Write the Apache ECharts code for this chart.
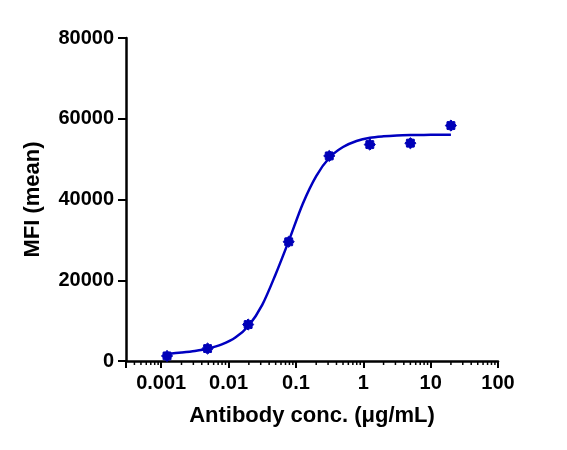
<!DOCTYPE html>
<html>
<head>
<meta charset="utf-8">
<script src="https://cdn.jsdelivr.net/npm/echarts@6/dist/echarts.min.js"></script>
<style>
html,body{margin:0;padding:0;background:#fff;}
#c{width:567px;height:450px;}
</style>
</head>
<body>
<div id="c"></div>
<script>
// Measured points (concentration in µg/mL, MFI mean)
const concentrations = [0.00122, 0.00488, 0.01953, 0.078125, 0.3125, 1.25, 5, 20];
const mfiValues = [1250, 3080, 9030, 29530, 50790, 53600, 53950, 58310];

// Fitted curve
const curveX = [0.00122, 0.002, 0.00316, 0.005, 0.00794, 0.0126, 0.02, 0.0316, 0.05, 0.0794, 0.126, 0.2, 0.316, 0.5, 0.794, 1.26, 2, 3.16, 5, 7.94, 12.6, 20];
const curveY = [1750, 2100, 2500, 3100, 4100, 5800, 8800, 13900, 21500, 30000, 38900, 45800, 50400, 53000, 54500, 55300, 55650, 55850, 55950, 56000, 56040, 56060];

// Axis tick labels
const xTickLabels = { '-3': '0.001', '-2': '0.01', '-1': '0.1', '0': '1', '1': '10', '2': '100' };
const yTicks = [0, 20000, 40000, 60000, 80000];

// minor tick values on the log axis
const minorMultipliers = [2, 3, 4, 5, 6, 7, 8, 9];
const minorDecades = [-4, -3, -2, -1, 0, 1];
const minorTicks = [];
minorDecades.forEach(d => minorMultipliers.forEach(m => {
  const v = m * Math.pow(10, d);
  if (v >= 0.0003 && v <= 100) minorTicks.push([v, 0]);
}));

const blue = '#0000C0';
const font = 'Liberation Sans, Arial, sans-serif';
const star = 'path://M10 0 L7.4 3.06 L7.07 7.07 L3.06 7.4 L0 10 L-3.06 7.4 L-7.07 7.07 L-7.4 3.06 L-10 0 L-7.4 -3.06 L-7.07 -7.07 L-3.06 -7.4 L0 -10 L3.06 -7.4 L7.07 -7.07 L7.4 -3.06 Z';

const chart = echarts.init(document.getElementById('c'));
chart.setOption({
  animation: false,
  grid: { left: 126, right: 69, top: 38, bottom: 89, containLabel: false },
  xAxis: {
    type: 'log',
    logBase: 10,
    min: 0.0003,
    max: 100,
    name: 'Antibody conc. (μg/mL)',
    nameLocation: 'middle',
    nameGap: 44,
    nameTextStyle: { fontFamily: font, fontWeight: 'bold', fontSize: 22, color: '#000' },
    axisLine: { lineStyle: { color: '#000', width: 2.5 } },
    axisTick: { show: true, length: 7, lineStyle: { color: '#000', width: 2 } },
    axisLabel: {
      margin: 12,
      fontFamily: font, fontWeight: 'bold', fontSize: 20, color: '#000',
      formatter: function (v) {
        const e = Math.log10(v);
        const r = Math.round(e);
        if (Math.abs(e - r) > 1e-6) return '';
        return xTickLabels[String(r)] || '';
      }
    },
    splitLine: { show: false }
  },
  yAxis: {
    type: 'value',
    min: yTicks[0],
    max: yTicks[yTicks.length - 1],
    interval: yTicks[1] - yTicks[0],
    name: 'MFI (mean)',
    nameLocation: 'middle',
    nameGap: 82,
    nameTextStyle: { fontFamily: font, fontWeight: 'bold', fontSize: 22, color: '#000' },
    axisLine: { show: true, lineStyle: { color: '#000', width: 2.5 } },
    axisTick: { show: true, length: 8, lineStyle: { color: '#000', width: 2 } },
    axisLabel: {
      margin: 12, fontFamily: font, fontWeight: 'bold', fontSize: 20, color: '#000',
      formatter: function (v) { return String(v); }
    },
    splitLine: { show: false }
  },
  series: [
    {
      type: 'custom',
      silent: true,
      clip: false,
      data: minorTicks,
      renderItem: function (params, api) {
        const p = api.coord([api.value(0), 0]);
        return {
          type: 'line',
          shape: { x1: p[0], y1: p[1], x2: p[0], y2: p[1] + 4 },
          style: { stroke: '#000', lineWidth: 1.5 }
        };
      },
      z: 1
    },
    {
      type: 'line',
      data: curveX.map((x, i) => [x, curveY[i]]),
      smooth: 0.3,
      showSymbol: false,
      symbol: 'none',
      lineStyle: { color: blue, width: 2.5 },
      silent: true,
      z: 2
    },
    {
      type: 'scatter',
      data: concentrations.map((x, i) => [x, mfiValues[i]]),
      symbol: star,
      symbolSize: 11,
      itemStyle: { color: '#0000B8', borderColor: '#0000B8', borderWidth: 1, opacity: 1 },
      z: 3
    }
  ]
});
</script>
</body>
</html>
